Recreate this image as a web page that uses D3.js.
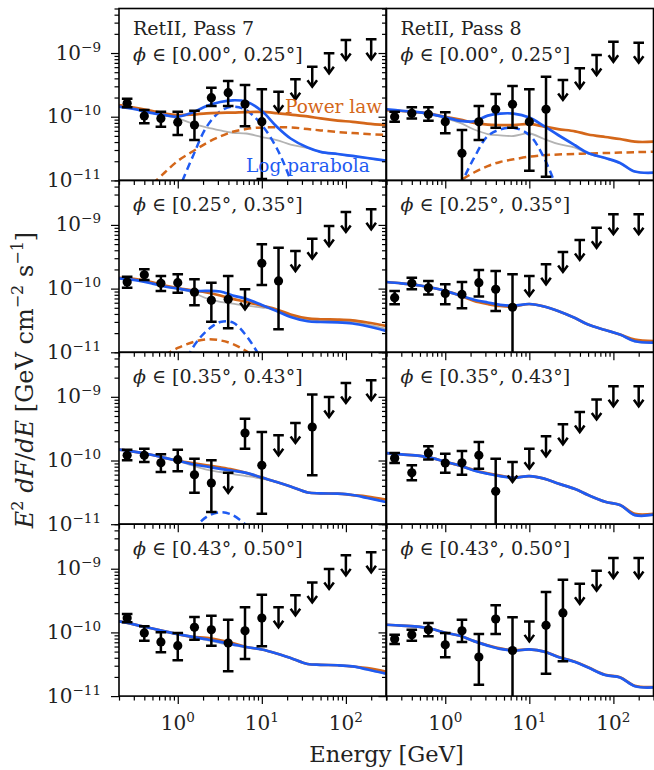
<!DOCTYPE html>
<html>
<head>
<meta charset="utf-8">
<script src="https://cdn.jsdelivr.net/npm/d3@7"></script>
<style>
  body { margin: 0; background: #fff; }
  svg { display: block; }
</style>
</head>
<body>
<svg id="chart" width="654" height="770"></svg>
<script>
// energy bin centres (GeV), shared by every panel
var energies = [0.25, 0.40, 0.63, 1.0, 1.58, 2.51, 3.98, 6.31, 10.0, 15.8, 25.1, 39.8, 63.1, 100, 200];

// panel order: [row0 Pass7, row0 Pass8, row1 Pass7, row1 Pass8, ...]
var passNames = ["RetII, Pass 7", "RetII, Pass 8"];
var phiBins = ["[0.00°, 0.25°]", "[0.25°, 0.35°]", "[0.35°, 0.43°]", "[0.43°, 0.50°]"];

var _ = null;
var flux = [
  [1.62e-10, 1.03e-10, 9.4e-11, 8.2e-11, 7.4e-11, 1.99e-10, 2.38e-10, 1.58e-10, 8.35e-11, _, _, _, _, _, _],
  [1.0e-10, 1.13e-10, 1.09e-10, 8.3e-11, 2.66e-11, 8.3e-11, 1.31e-10, 1.57e-10, 8.3e-11, 1.31e-10, _, _, _, _, _],
  [1.27e-10, 1.65e-10, 1.21e-10, 1.24e-10, 8.8e-11, 6.55e-11, 6.8e-11, _, 2.50e-10, 1.32e-10, _, _, _, _, _],
  [7.2e-11, 1.21e-10, 1.03e-10, 8.4e-11, 8.1e-11, 1.24e-10, 9.75e-11, 5.1e-11, _, _, _, _, _, _, _],
  [1.21e-10, 1.21e-10, 9.2e-11, 1.03e-10, 5.98e-11, 4.43e-11, _, 2.70e-10, 8.4e-11, _, _, 3.36e-10, _, _, _],
  [1.09e-10, 6.4e-11, 1.31e-10, 9.1e-11, 9.2e-11, 1.21e-10, 3.28e-11, _, _, _, _, _, _, _, _],
  [1.68e-10, 9.8e-11, 7.1e-11, 6.2e-11, 1.20e-10, 1.10e-10, 6.8e-11, 1.06e-10, 1.68e-10, _, _, _, _, _, _],
  [7.9e-11, 9.2e-11, 1.10e-10, 6.4e-11, 1.06e-10, 4.11e-11, 1.62e-10, 5.2e-11, _, 1.29e-10, 2.02e-10, _, _, _, _]
];
var errHigh = [
  [1.92e-10, 1.27e-10, 1.20e-10, 1.20e-10, 1.24e-10, 2.85e-10, 3.63e-10, 3.15e-10, 2.69e-10, _, _, _, _, _, _],
  [1.20e-10, 1.41e-10, 1.41e-10, 1.17e-10, 6.2e-11, 1.47e-10, 2.27e-10, 3.03e-10, 2.69e-10, 4.25e-10, _, _, _, _, _],
  [1.54e-10, 2.01e-10, 1.58e-10, 1.68e-10, 1.40e-10, 1.24e-10, 1.58e-10, _, 4.96e-10, 4.39e-10, _, _, _, _, _],
  [9.2e-11, 1.48e-10, 1.32e-10, 1.17e-10, 1.27e-10, 1.96e-10, 1.89e-10, 1.68e-10, _, _, _, _, _, _, _],
  [1.48e-10, 1.53e-10, 1.25e-10, 1.48e-10, 1.07e-10, 1.01e-10, _, 4.53e-10, 2.80e-10, _, _, 1.09e-9, _, _, _],
  [1.31e-10, 8.4e-11, 1.67e-10, 1.28e-10, 1.41e-10, 1.95e-10, 1.07e-10, _, _, _, _, _, _, _, _],
  [1.95e-10, 1.25e-10, 1.01e-10, 9.8e-11, 1.75e-10, 1.83e-10, 1.58e-10, 2.48e-10, 3.91e-10, _, _, _, _, _, _],
  [9.2e-11, 1.10e-10, 1.41e-10, 9.8e-11, 1.58e-10, 9.4e-11, 2.66e-10, 1.73e-10, _, 4.31e-10, 6.7e-10, _, _, _, _]
];
var errLow = [
  [1.41e-10, 7.9e-11, 6.97e-11, 5.16e-11, 4.3e-11, 1.47e-10, 1.47e-10, 7.1e-11, 1.05e-11, _, _, _, _, _, _],
  [8.3e-11, 9.4e-11, 8.65e-11, 5.5e-11, 5e-12, 4.3e-11, 6.7e-11, 6.7e-11, 1.42e-11, 1.14e-11, _, _, _, _, _],
  [1.03e-10, 1.36e-10, 9.2e-11, 8.6e-11, 5.47e-11, 3.02e-11, 2.38e-11, _, 1.14e-10, 2.30e-11, _, _, _, _, _],
  [5.7e-11, 9.75e-11, 8.1e-11, 5.7e-11, 4.9e-11, 7.5e-11, 4.45e-11, 5e-12, _, _, _, _, _, _, _],
  [1.01e-10, 9.5e-11, 6.6e-11, 6.8e-11, 3.12e-11, 1.55e-11, _, 1.53e-10, 1.46e-11, _, _, 5.86e-11, _, _, _],
  [9.1e-11, 4.9e-11, 1.04e-10, 6.4e-11, 6.0e-11, 7.4e-11, 5e-12, _, _, _, _, _, _, _, _],
  [1.44e-10, 7.4e-11, 4.87e-11, 3.65e-11, 7.7e-11, 6.2e-11, 2.45e-11, 3.82e-11, 6.05e-11, _, _, _, _, _, _],
  [6.6e-11, 7.4e-11, 8.7e-11, 4.06e-11, 7.1e-11, 1.51e-11, 9.4e-11, 5e-12, _, 2.25e-11, 3.52e-11, _, _, _, _]
];
var upperLimits = [
  [_, _, _, _, _, _, _, _, _, 2.47e-10, 3.86e-10, 6.1e-10, 9.9e-10, 1.60e-9, 1.64e-9],
  [_, _, _, _, _, _, _, _, _, _, 3.77e-10, 5.75e-10, 9.3e-10, 1.50e-9, 1.45e-9],
  [_, _, _, _, _, _, _, 9.75e-11, _, _, 3.89e-10, 6.07e-10, 9.6e-10, 1.60e-9, 1.76e-9],
  [_, _, _, _, _, _, _, _, 1.58e-10, 2.41e-10, 3.76e-10, 5.8e-10, 9.0e-10, 1.47e-9, 1.47e-9],
  [_, _, _, _, _, _, 6.4e-11, _, _, 2.49e-10, 3.88e-10, _, 9.9e-10, 1.65e-9, 1.82e-9],
  [_, _, _, _, _, _, _, 9.5e-11, 1.53e-10, 2.40e-10, 3.70e-10, 5.77e-10, 9.1e-10, 1.46e-9, 1.46e-9],
  [_, _, _, _, _, _, _, _, _, 2.48e-10, 3.82e-10, 6.1e-10, 9.9e-10, 1.62e-9, 1.81e-9],
  [_, _, _, _, _, _, _, _, 1.49e-10, _, _, 5.8e-10, 9.3e-10, 1.47e-9, 1.47e-9]
];

// model curves, sampled on a common energy grid
var curveE = [0.2, 0.3, 0.5, 0.7, 1, 1.5, 2.2, 3.2, 4.5, 6.5, 10, 15, 22, 35, 50, 80, 120, 180, 300];
var powerLaw = [
  [1.52e-10, 1.39e-10, 1.23e-10, 1.12e-10, 1.06e-10, 1.08e-10, 1.13e-10, 1.15e-10, 1.16e-10, 1.18e-10, 1.19e-10, 1.14e-10, 1.08e-10, 1.01e-10, 9.4e-11, 8.7e-11, 8.3e-11, 7.8e-11, 7.4e-11],
  [1.27e-10, 1.23e-10, 1.17e-10, 1.10e-10, 1.00e-10, 9.0e-11, 8.0e-11, 7.5e-11, 7.4e-11, 7.4e-11, 7.7e-11, 7.0e-11, 6.4e-11, 5.9e-11, 5.26e-11, 4.8e-11, 4.47e-11, 4.05e-11, 4.05e-11],
  [1.48e-10, 1.42e-10, 1.25e-10, 1.12e-10, 1.02e-10, 9.4e-11, 8.7e-11, 7.8e-11, 6.9e-11, 6.2e-11, 5.4e-11, 4.7e-11, 3.92e-11, 3.40e-11, 3.30e-11, 3.27e-11, 3.18e-11, 2.94e-11, 2.59e-11],
  [1.27e-10, 1.21e-10, 1.12e-10, 1.03e-10, 9.2e-11, 7.8e-11, 6.4e-11, 5.73e-11, 5.33e-11, 5.24e-11, 5.73e-11, 5.24e-11, 4.45e-11, 3.45e-11, 2.73e-11, 2.24e-11, 1.90e-11, 1.59e-11, 1.50e-11],
  [1.48e-10, 1.38e-10, 1.22e-10, 1.10e-10, 9.9e-11, 9.1e-11, 8.4e-11, 7.8e-11, 7.2e-11, 6.4e-11, 5.4e-11, 4.6e-11, 3.91e-11, 3.15e-11, 3.05e-11, 3.01e-11, 2.87e-11, 2.72e-11, 2.44e-11],
  [1.31e-10, 1.25e-10, 1.18e-10, 1.09e-10, 9.55e-11, 8.3e-11, 7.1e-11, 6.3e-11, 5.8e-11, 5.4e-11, 5.7e-11, 5.2e-11, 4.35e-11, 3.57e-11, 2.87e-11, 2.25e-11, 2.0e-11, 1.45e-11, 1.45e-11],
  [1.49e-10, 1.34e-10, 1.15e-10, 1.04e-10, 9.4e-11, 8.5e-11, 8.2e-11, 7.5e-11, 6.8e-11, 5.9e-11, 5.4e-11, 4.67e-11, 3.96e-11, 3.19e-11, 3.1e-11, 3.05e-11, 2.92e-11, 2.76e-11, 2.43e-11],
  [1.32e-10, 1.28e-10, 1.22e-10, 1.13e-10, 9.9e-11, 8.85e-11, 7.3e-11, 6.3e-11, 5.6e-11, 5.25e-11, 5.4e-11, 5.0e-11, 4.15e-11, 3.45e-11, 2.83e-11, 2.16e-11, 1.98e-11, 1.45e-11, 1.39e-11]
];
var logParabola = [
  [1.44e-10, 1.32e-10, 1.14e-10, 1.06e-10, 1.00e-10, 1.16e-10, 1.47e-10, 1.70e-10, 1.81e-10, 1.73e-10, 1.23e-10, 7.0e-11, 4.55e-11, 3.28e-11, 2.81e-11, 2.60e-11, 2.42e-11, 2.25e-11, 2.05e-11],
  [1.31e-10, 1.24e-10, 1.17e-10, 1.09e-10, 9.8e-11, 8.6e-11, 8.5e-11, 1.04e-10, 1.12e-10, 1.12e-10, 9.7e-11, 7.1e-11, 5.16e-11, 3.56e-11, 2.69e-11, 2.25e-11, 1.88e-11, 1.38e-11, 1.32e-11],
  [1.45e-10, 1.37e-10, 1.20e-10, 1.08e-10, 1.0e-10, 9.2e-11, 9.2e-11, 9.0e-11, 7.8e-11, 6.9e-11, 5.55e-11, 4.45e-11, 3.58e-11, 3.07e-11, 2.99e-11, 2.95e-11, 2.83e-11, 2.56e-11, 2.16e-11],
  [1.27e-10, 1.21e-10, 1.12e-10, 1.03e-10, 9.2e-11, 7.8e-11, 6.7e-11, 6.05e-11, 5.57e-11, 5.4e-11, 5.73e-11, 5.24e-11, 4.45e-11, 3.45e-11, 2.73e-11, 2.24e-11, 1.90e-11, 1.49e-11, 1.42e-11],
  [1.48e-10, 1.38e-10, 1.22e-10, 1.10e-10, 9.9e-11, 8.75e-11, 8.05e-11, 7.4e-11, 6.9e-11, 6.4e-11, 5.4e-11, 4.6e-11, 3.91e-11, 3.15e-11, 3.05e-11, 3.01e-11, 2.87e-11, 2.58e-11, 2.23e-11],
  [1.31e-10, 1.25e-10, 1.18e-10, 1.09e-10, 9.55e-11, 8.3e-11, 6.97e-11, 6.2e-11, 5.7e-11, 5.35e-11, 5.7e-11, 5.2e-11, 4.35e-11, 3.57e-11, 2.87e-11, 2.25e-11, 2.0e-11, 1.39e-11, 1.41e-11],
  [1.49e-10, 1.34e-10, 1.15e-10, 1.04e-10, 9.4e-11, 8.5e-11, 7.8e-11, 7.1e-11, 6.5e-11, 5.9e-11, 5.4e-11, 4.67e-11, 3.96e-11, 3.19e-11, 3.1e-11, 3.05e-11, 2.92e-11, 2.62e-11, 2.25e-11],
  [1.32e-10, 1.28e-10, 1.22e-10, 1.13e-10, 9.9e-11, 8.85e-11, 7.3e-11, 6.2e-11, 5.5e-11, 5.2e-11, 5.4e-11, 5.0e-11, 4.11e-11, 3.43e-11, 2.81e-11, 2.14e-11, 1.96e-11, 1.43e-11, 1.37e-11]
];
var background = [
  [1.44e-10, 1.32e-10, 1.14e-10, 1.04e-10, 9.4e-11, 7.8e-11, 6.8e-11, 6.1e-11, 5.6e-11, 5.45e-11, 4.8e-11, 4.3e-11, 3.66e-11, 3.23e-11, 2.79e-11, 2.58e-11, 2.40e-11, 2.23e-11, 2.03e-11],
  [1.29e-10, 1.23e-10, 1.16e-10, 1.08e-10, 9.5e-11, 8.0e-11, 6.3e-11, 5.35e-11, 5.1e-11, 4.98e-11, 5.45e-11, 4.47e-11, 3.73e-11, 3.28e-11, 2.64e-11, 2.23e-11, 1.86e-11, 1.37e-11, 1.31e-11],
  [1.45e-10, 1.37e-10, 1.20e-10, 1.08e-10, 9.9e-11, 8.7e-11, 7.0e-11, 6.2e-11, 5.8e-11, 5.4e-11, 5.05e-11, 4.6e-11, 3.72e-11, 3.21e-11, 3.12e-11, 3.1e-11, 2.99e-11, 2.73e-11, 2.36e-11],
  [1.27e-10, 1.21e-10, 1.12e-10, 1.03e-10, 9.2e-11, 7.8e-11, 6.6e-11, 5.95e-11, 5.5e-11, 5.35e-11, 5.65e-11, 5.2e-11, 4.4e-11, 3.42e-11, 2.71e-11, 2.22e-11, 1.88e-11, 1.47e-11, 1.40e-11],
  [1.48e-10, 1.38e-10, 1.22e-10, 1.10e-10, 9.9e-11, 8.35e-11, 7.2e-11, 6.6e-11, 6.1e-11, 5.7e-11, 5.2e-11, 4.6e-11, 3.91e-11, 3.15e-11, 3.05e-11, 3.01e-11, 2.87e-11, 2.58e-11, 2.23e-11],
  [1.31e-10, 1.25e-10, 1.18e-10, 1.09e-10, 9.5e-11, 8.2e-11, 6.9e-11, 6.1e-11, 5.65e-11, 5.3e-11, 5.65e-11, 5.15e-11, 4.3e-11, 3.55e-11, 2.85e-11, 2.23e-11, 1.98e-11, 1.38e-11, 1.40e-11],
  [1.49e-10, 1.34e-10, 1.15e-10, 1.04e-10, 9.4e-11, 8.4e-11, 7.6e-11, 6.8e-11, 6.3e-11, 5.8e-11, 5.35e-11, 4.65e-11, 3.95e-11, 3.18e-11, 3.09e-11, 3.04e-11, 2.91e-11, 2.61e-11, 2.24e-11],
  [1.32e-10, 1.28e-10, 1.22e-10, 1.13e-10, 9.85e-11, 8.8e-11, 7.25e-11, 6.15e-11, 5.45e-11, 5.15e-11, 5.35e-11, 4.95e-11, 4.08e-11, 3.41e-11, 2.79e-11, 2.12e-11, 1.95e-11, 1.42e-11, 1.36e-11]
];
// signal-only components (dashed)
var powerLawSignal = [
  [_, _, 8.8e-12, 1.33e-11, 2.02e-11, 2.84e-11, 3.86e-11, 4.89e-11, 5.8e-11, 6.4e-11, 6.8e-11, 6.8e-11, 6.8e-11, 6.4e-11, 6.1e-11, 5.75e-11, 5.55e-11, 5.35e-11, 5.16e-11],
  [_, _, _, _, 5.9e-12, 9.8e-12, 1.33e-11, 1.68e-11, 1.95e-11, 2.14e-11, 2.36e-11, 2.49e-11, 2.55e-11, 2.60e-11, 2.64e-11, 2.69e-11, 2.73e-11, 2.77e-11, 2.82e-11],
  [_, _, _, 9.1e-12, 1.17e-11, 1.44e-11, 1.60e-11, 1.54e-11, 1.35e-11, 1.05e-11, 7.0e-12, _, _, _, _, _, _, _, _],
  null, null, null, null, null
];
var logParabolaSignal = [
  [_, _, _, _, 6.6e-12, 2.33e-11, 6.9e-11, 1.21e-10, 1.44e-10, 1.27e-10, 7.4e-11, 3.23e-11, 1.01e-11, 1.66e-12, _, _, _, _, _],
  [_, _, _, _, _, 8.2e-12, 2.25e-11, 4.98e-11, 6.3e-11, 6.7e-11, 5.16e-11, 2.25e-11, 6.6e-12, _, _, _, _, _, _],
  [_, _, _, _, 3.7e-12, 1.17e-11, 2.16e-11, 2.99e-11, 2.94e-11, 1.84e-11, 7.6e-12, _, _, _, _, _, _, _, _],
  null,
  [_, _, _, _, _, 8.1e-12, 1.30e-11, 1.54e-11, 1.39e-11, 9.7e-12, _, _, _, _, _, _, _, _, _],
  null, null, null
];

var xMajorTicks = [1, 10, 100];
var xTickExponents = ["0", "1", "2"];
var yMajorTicks = [1e-11, 1e-10, 1e-9];
var yTickExponents = ["−11", "−10", "−9"];

var ORANGE = "#d4671a", BLUE = "#1f5bf2", GRAY = "#b3b3b3";
var SERIF = "'DejaVu Serif', serif";

var left = 119, top0 = 8.5, panelW = 267, panelH = 171.9, colStep = 267.5;

var svg = d3.select("#chart");
var x = d3.scaleLog().domain([0.2, 300]).range([0, panelW]);
var y = d3.scaleLog().domain([1e-11, 5e-9]).range([panelH, 0]);

svg.append("defs").append("clipPath").attr("id", "plotclip")
  .append("rect").attr("width", panelW).attr("height", panelH);

// minor ticks from 2..9 x 10^k
var xMinor = [], yMinor = [];
[-1, 0, 1, 2].forEach(function (k) {
  for (var m = 2; m <= 9; m++) {
    var v = +(m * Math.pow(10, k)).toPrecision(3);
    if (v >= 0.2 && v <= 300) xMinor.push(v);
  }
});
[-11, -10, -9].forEach(function (k) {
  for (var m = 2; m <= 9; m++) {
    var v = +(m * Math.pow(10, k)).toPrecision(3);
    if (v <= 5e-9) yMinor.push(v);
  }
});

var line = d3.line()
  .defined(function (d) { return d[1] != null; })
  .x(function (d) { return x(d[0]); })
  .y(function (d) { return y(d[1]); })
  .curve(d3.curveCatmullRom.alpha(0.5));

function curvePts(arr) {
  return curveE.map(function (e, i) { return [e, arr[i]]; });
}

function powLabel(t, base, exp, supSize) {
  t.append("tspan").text(base);
  t.append("tspan").attr("dy", -8).attr("font-size", supSize).text(exp);
}

function styleAxis(g) {
  g.select(".domain").remove();
  g.selectAll(".tick line").attr("stroke", "#000").attr("stroke-width", 1.2);
}

for (var p = 0; p < 8; p++) {
  var row = Math.floor(p / 2), col = p % 2;
  var g = svg.append("g")
    .attr("transform", "translate(" + (left + col * colStep) + "," + (top0 + row * panelH) + ")");

  // ticks (outward)
  g.append("g").attr("transform", "translate(0," + panelH + ")")
    .call(d3.axisBottom(x).tickValues(xMinor).tickSize(4.5).tickFormat("")).call(styleAxis);
  g.append("g").attr("transform", "translate(0," + panelH + ")")
    .call(d3.axisBottom(x).tickValues(xMajorTicks).tickSize(8).tickFormat("")).call(styleAxis);
  g.append("g").call(d3.axisLeft(y).tickValues(yMinor).tickSize(4.5).tickFormat("")).call(styleAxis);
  g.append("g").call(d3.axisLeft(y).tickValues(yMajorTicks).tickSize(8).tickFormat("")).call(styleAxis);

  var plot = g.append("g").attr("clip-path", "url(#plotclip)");

  plot.append("path").datum(curvePts(background[p]))
    .attr("d", line).attr("fill", "none").attr("stroke", GRAY).attr("stroke-width", 1.8);
  if (powerLawSignal[p]) {
    plot.append("path").datum(curvePts(powerLawSignal[p]))
      .attr("d", line).attr("fill", "none").attr("stroke", ORANGE)
      .attr("stroke-width", 2.5).attr("stroke-dasharray", "7.5,4.5");
  }
  if (logParabolaSignal[p]) {
    plot.append("path").datum(curvePts(logParabolaSignal[p]))
      .attr("d", line).attr("fill", "none").attr("stroke", BLUE)
      .attr("stroke-width", 2.5).attr("stroke-dasharray", "7.5,4.5");
  }
  plot.append("path").datum(curvePts(powerLaw[p]))
    .attr("d", line).attr("fill", "none").attr("stroke", ORANGE).attr("stroke-width", 2.7);
  plot.append("path").datum(curvePts(logParabola[p]))
    .attr("d", line).attr("fill", "none").attr("stroke", BLUE).attr("stroke-width", 2.7);

  // measured points with error bars
  var pts = energies.map(function (e, i) {
    return { e: e, f: flux[p][i], hi: errHigh[p][i], lo: errLow[p][i], ul: upperLimits[p][i] };
  });
  var meas = pts.filter(function (d) { return d.f != null; });
  var eb = plot.append("g").attr("stroke", "#000").attr("stroke-width", 2.5).attr("fill", "none");
  meas.forEach(function (d) {
    var cx = x(d.e);
    eb.append("line").attr("x1", cx).attr("x2", cx).attr("y1", y(d.hi)).attr("y2", y(d.lo));
    eb.append("line").attr("x1", cx - 5.3).attr("x2", cx + 5.3).attr("y1", y(d.hi)).attr("y2", y(d.hi));
    eb.append("line").attr("x1", cx - 5.3).attr("x2", cx + 5.3).attr("y1", y(d.lo)).attr("y2", y(d.lo));
  });
  plot.selectAll("circle.pt").data(meas).enter().append("circle")
    .attr("cx", function (d) { return x(d.e); })
    .attr("cy", function (d) { return y(d.f); })
    .attr("r", 4.6).attr("fill", "#000");

  // upper limits
  pts.filter(function (d) { return d.ul != null; }).forEach(function (d) {
    var cx = x(d.e), cy = y(d.ul), tip = cy + 20;
    eb.append("line").attr("x1", cx - 5.3).attr("x2", cx + 5.3).attr("y1", cy).attr("y2", cy);
    eb.append("line").attr("x1", cx).attr("x2", cx).attr("y1", cy).attr("y2", tip - 1);
    eb.append("path").attr("stroke-linejoin", "miter")
      .attr("d", "M" + (cx - 4.8) + "," + (tip - 6.5) + "L" + cx + "," + tip + "L" + (cx + 4.8) + "," + (tip - 6.5));
  });

  // frame
  g.append("rect").attr("width", panelW).attr("height", panelH)
    .attr("fill", "none").attr("stroke", "#000").attr("stroke-width", 1.6);

  // panel annotations
  var txt = g.append("g").attr("font-family", SERIF).attr("font-size", 19).attr("fill", "#222");
  if (row === 0) {
    txt.append("text").attr("x", 14).attr("y", 26.5).text(passNames[col]);
  }
  var phi = txt.append("text").attr("x", 14).attr("y", row === 0 ? 52.5 : 31);
  phi.append("tspan").attr("font-style", "italic").text("ϕ");
  phi.append("tspan").text(" ∈ " + phiBins[row]);

  if (p === 0) {
    g.append("text").attr("x", 166).attr("y", 104).attr("font-family", SERIF)
      .attr("font-size", 18.5).attr("fill", ORANGE).text("Power law");
    g.append("text").attr("x", 127).attr("y", 163).attr("font-family", SERIF)
      .attr("font-size", 18.5).attr("fill", BLUE).text("Log parabola");
  }

  // tick labels
  if (col === 0) {
    yMajorTicks.forEach(function (v, i) {
      var t = g.append("text").attr("x", -18).attr("y", y(v) + 6.5)
        .attr("text-anchor", "end").attr("font-family", SERIF).attr("font-size", 20).attr("fill", "#222");
      powLabel(t, "10", yTickExponents[i], 13.5);
    });
  }
  if (row === 3) {
    xMajorTicks.forEach(function (v, i) {
      var t = g.append("text").attr("x", x(v)).attr("y", panelH + 34)
        .attr("text-anchor", "middle").attr("font-family", SERIF).attr("font-size", 20).attr("fill", "#222");
      powLabel(t, "10", xTickExponents[i], 13.5);
    });
  }
}

// axis titles
svg.append("text").attr("x", left + colStep).attr("y", 762)
  .attr("text-anchor", "middle").attr("font-family", SERIF).attr("font-size", 22.5).attr("fill", "#222")
  .text("Energy [GeV]");

var yl = svg.append("text").attr("transform", "translate(33,380) rotate(-90)")
  .attr("text-anchor", "middle").attr("font-family", SERIF).attr("font-size", 24).attr("fill", "#222");
yl.append("tspan").attr("font-style", "italic").text("E");
yl.append("tspan").attr("dy", -10).attr("font-size", 16).text("2");
yl.append("tspan").attr("dy", 10).text(" ");
yl.append("tspan").attr("font-style", "italic").text("dF");
yl.append("tspan").text("/");
yl.append("tspan").attr("font-style", "italic").text("dE");
yl.append("tspan").text(" [GeV cm");
yl.append("tspan").attr("dy", -10).attr("font-size", 16).text("−2");
yl.append("tspan").attr("dy", 10).text(" s");
yl.append("tspan").attr("dy", -10).attr("font-size", 16).text("−1");
yl.append("tspan").attr("dy", 10).text("]");
</script>
</body>
</html>
